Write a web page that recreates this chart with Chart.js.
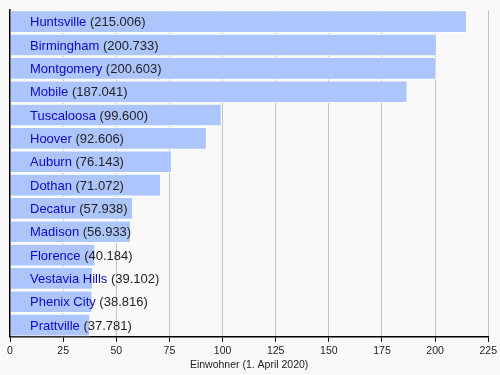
<!DOCTYPE html>
<html>
<head>
<meta charset="utf-8">
<script src="https://cdn.jsdelivr.net/npm/chart.js@4"></script>
<style>
  html, body { margin: 0; padding: 0; background: #f9f9f9; }
  #wrap { width: 500px; height: 375px; }
</style>
</head>
<body>
<div id="wrap"><canvas id="myChart" width="500" height="375"></canvas></div>
<script>
// Einwohner in Tausend (1. April 2020)
const cities = ['Huntsville', 'Birmingham', 'Montgomery', 'Mobile', 'Tuscaloosa', 'Hoover', 'Auburn',
  'Dothan', 'Decatur', 'Madison', 'Florence', 'Vestavia Hills', 'Phenix City', 'Prattville'];
const population = [215.006, 200.733, 200.603, 187.041, 99.600, 92.606, 76.143,
  71.072, 57.938, 56.933, 40.184, 39.102, 38.816, 37.781];
const xTicks = [0, 25, 50, 75, 100, 125, 150, 175, 200, 225];
const axisTitle = 'Einwohner (1. April 2020)';

const fontFamily = '"Liberation Sans", Arial, sans-serif';

// draws "City (value)" inside each bar, name blue, value black
const barLabels = {
  id: 'barLabels',
  afterDatasetsDraw(chart) {
    const ctx = chart.ctx;
    const meta = chart.getDatasetMeta(0);
    const left = chart.chartArea.left + 20;
    ctx.save();
    ctx.font = '13px ' + fontFamily;
    ctx.textBaseline = 'middle';
    ctx.textAlign = 'left';
    meta.data.forEach((bar, i) => {
      const name = cities[i];
      const val = ' (' + population[i].toFixed(3) + ')';
      ctx.fillStyle = '#0a0ac8';
      ctx.fillText(name, left, bar.y + 1);
      const w = ctx.measureText(name).width;
      ctx.fillStyle = '#222222';
      ctx.fillText(val, left + w, bar.y + 1);
    });
    ctx.restore();
  }
};

new Chart(document.getElementById('myChart').getContext('2d'), {
  type: 'bar',
  data: {
    labels: cities,
    datasets: [{
      data: population,
      backgroundColor: '#adc5fd',
      borderColor: '#ffffff',
      borderWidth: 1,
      barPercentage: 0.97,
      categoryPercentage: 1.0
    }]
  },
  options: {
    indexAxis: 'y',
    responsive: false,
    animation: false,
    layout: { padding: { left: 10, right: 10, top: 10, bottom: 4 } },
    plugins: {
      legend: { display: false },
      tooltip: { enabled: false }
    },
    scales: {
      x: {
        min: 0,
        max: 225,
        afterBuildTicks: (axis) => { axis.ticks = xTicks.map(v => ({ value: v })); },
        grid: { color: '#b8cab8', tickColor: '#000000', tickLength: 5 },
        border: { color: '#000000', width: 1.5 },
        ticks: {
          color: '#222222',
          padding: 3,
          maxRotation: 0,
          font: { family: fontFamily, size: 10.5 }
        },
        title: {
          display: true,
          text: axisTitle,
          color: '#222222',
          padding: { top: -2, bottom: 0 },
          font: { family: fontFamily, size: 10.5 }
        }
      },
      y: {
        grid: { display: false, drawTicks: false },
        border: { color: '#000000', width: 1.5 },
        ticks: { display: false }
      }
    }
  },
  plugins: [barLabels]
});
</script>
</body>
</html>
